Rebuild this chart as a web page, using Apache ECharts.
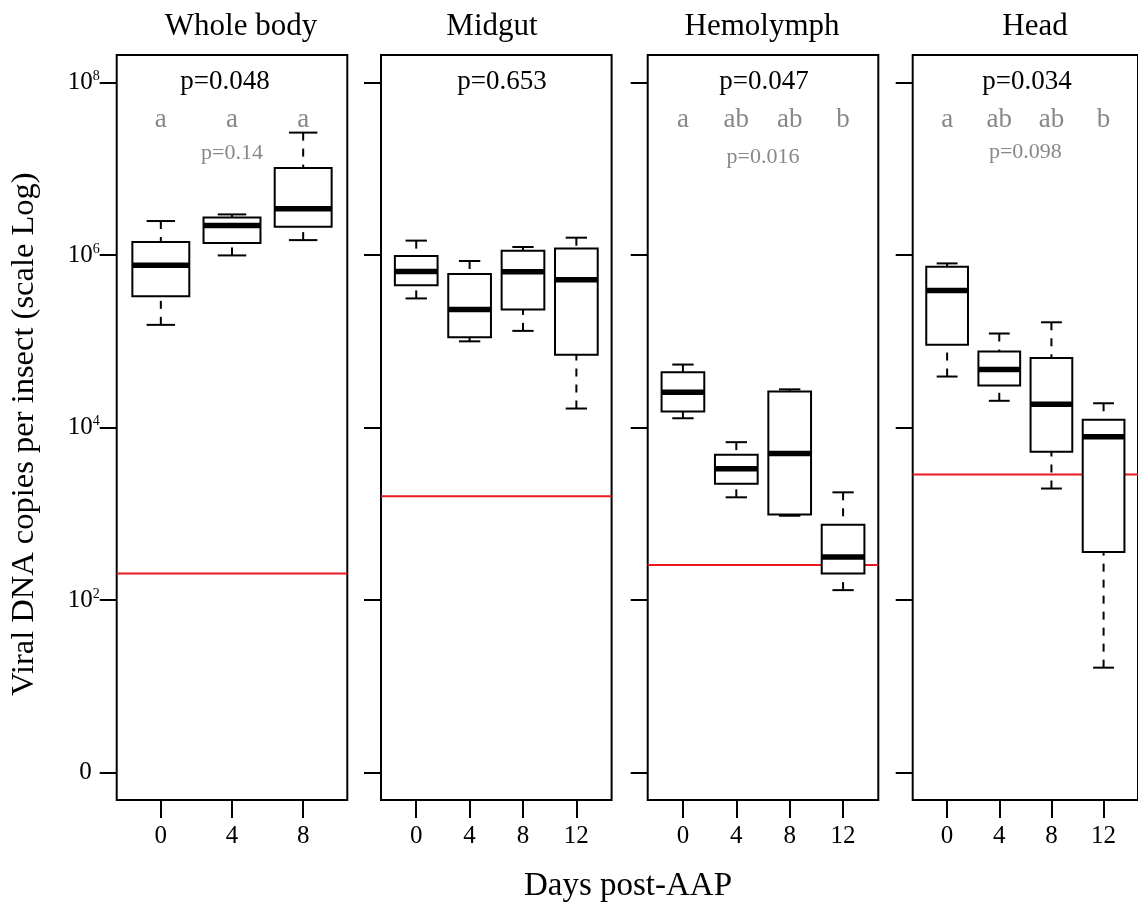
<!DOCTYPE html>
<html>
<head>
<meta charset="utf-8">
<script src="https://cdn.jsdelivr.net/npm/echarts@6/dist/echarts.min.js"></script>
<style>
html,body{margin:0;padding:0;background:#fff;}
#c{width:1138px;height:905px;}
</style>
</head>
<body>
<div id="c"></div>
<script>
// ---------------- DATA ----------------
const panelTitles = ['Whole body', 'Midgut', 'Hemolymph', 'Head'];
const dayLabels = [['0', '4', '8'], ['0', '4', '8', '12'], ['0', '4', '8', '12'], ['0', '4', '8', '12']];
// each box: [min, Q1, median, Q3, max] viral DNA copies per insect
const wholeBody = [
  [1.55e5, 3.32e5, 7.59e5, 1.42e6, 2.48e6],
  [9.9e5, 1.38e6, 2.20e6, 2.73e6, 2.96e6],
  [1.49e6, 2.13e6, 3.44e6, 1.02e7, 2.63e7]
];
const midgut = [
  [3.14e5, 4.45e5, 6.46e5, 9.75e5, 1.47e6],
  [9.98e4, 1.11e5, 2.33e5, 6.03e5, 8.53e5],
  [1.32e5, 2.33e5, 6.41e5, 1.12e6, 1.24e6],
  [1.66e4, 7.0e4, 5.18e5, 1.19e6, 1.59e6]
];
const hemolymph = [
  [1.28e4, 1.53e4, 2.56e4, 4.37e4, 5.37e4],
  [1.55e3, 2.23e3, 3.32e3, 4.82e3, 6.76e3],
  [948, 982, 5.0e3, 2.61e4, 2.77e4],
  [130, 202, 314, 746, 1.77e3]
];
const head = [
  [3.9e4, 9.14e4, 3.89e5, 7.33e5, 8.0e5],
  [2.04e4, 3.06e4, 4.70e4, 7.59e4, 1.23e5],
  [1.96e3, 5.22e3, 1.86e4, 6.41e4, 1.66e5],
  [16.4, 359, 7.80e3, 1.23e4, 1.91e4]
];
const detectionLimit = [202, 1590, 254, 2850];
const overallP = ['p=0.048', 'p=0.653', 'p=0.047', 'p=0.034'];
const groupLetters = [['a', 'a', 'a'], [], ['a', 'ab', 'ab', 'b'], ['a', 'ab', 'ab', 'b']];
const pairwiseP = ['p=0.14', '', 'p=0.016', 'p=0.098'];
const yTickExponents = [0, 2, 4, 6, 8];
const yTitle = 'Viral DNA copies per insect (scale Log)';
const xTitle = 'Days post-AAP';

// ---------------- LAYOUT ----------------
const FONT = '"Liberation Serif", "Times New Roman", serif';
const gridLeft = [116.7, 381, 647.7, 912.7];
const gridWidth = 230.6, gridTop = 55, gridHeight = 745;
const yMin = -0.32, yMax = 8.32;
const smallPY = [153, 0, 157, 152];
const pX = [225, 502, 764, 1027];
const titleX = [241, 492, 762, 1035];

const panelStats = [wholeBody, midgut, hemolymph, head];

const chart = echarts.init(document.getElementById('c'), null, {renderer: 'canvas'});

const grids = [], xAxes = [], yAxes = [], series = [];
panelStats.forEach((stats, i) => {
  const n = stats.length;
  const ext = 0.04 * n;
  const xmin = 0.5 - ext, xmax = n + 0.5 + ext;
  grids.push({left: gridLeft[i], top: gridTop, width: gridWidth, height: gridHeight,
    show: true, borderColor: '#000', borderWidth: 2, backgroundColor: 'transparent'});
  const pos = stats.map((_, j) => j + 1);
  xAxes.push({
    type: 'value', gridIndex: i, min: xmin, max: xmax, position: 'bottom',
    axisLine: {show: false, onZero: false}, splitLine: {show: false},
    axisTick: {show: true, inside: false, customValues: pos, length: 18, lineStyle: {color: '#000', width: 2}},
    axisLabel: {show: true, customValues: pos, margin: 23, color: '#000',
      fontFamily: FONT, fontSize: 25, lineHeight: 26,
      formatter: v => dayLabels[i][Math.round(v) - 1]}
  });
  yAxes.push({
    type: 'value', gridIndex: i, min: yMin, max: yMax, position: 'left',
    axisLine: {show: false, onZero: false}, splitLine: {show: false},
    axisTick: {show: true, inside: false, customValues: yTickExponents, length: 17, lineStyle: {color: '#000', width: 2}},
    axisLabel: {show: i === 0, customValues: yTickExponents, margin: 17, color: '#000',
      formatter: v => v === 0 ? '{z|0}' : '{b|10}{s|' + v + '}',
      rich: {
        b: {fontFamily: FONT, fontSize: 25, lineHeight: 26, color: '#000'},
        s: {fontFamily: FONT, fontSize: 14, lineHeight: 19, verticalAlign: 'top', color: '#000'},
        z: {fontFamily: FONT, fontSize: 25, lineHeight: 26, color: '#000', padding: [0, 8, 0, 0]}
      }}
  });
  // detection limit (red line)
  series.push({
    type: 'line', xAxisIndex: i, yAxisIndex: i, symbol: 'none', silent: true, z: 1,
    lineStyle: {color: '#e8191f', width: 2},
    data: [[xmin, Math.log10(detectionLimit[i])], [xmax, Math.log10(detectionLimit[i])]]
  });
  // boxes
  series.push({
    type: 'custom', xAxisIndex: i, yAxisIndex: i, z: 3, silent: true,
    encode: {x: 0, y: [1, 2, 3, 4, 5]},
    data: stats.map((s, j) => [j + 1].concat(s.map(v => Math.log10(v)))),
    renderItem: (params, api) => {
      const x = api.value(0);
      const yv = [1, 2, 3, 4, 5].map(k => api.coord([x, api.value(k)])[1]);
      const cx = api.coord([x, 0])[0];
      const hb = api.size([0.8, 0])[0] / 2;
      const hc = api.size([0.4, 0])[0] / 2;
      const solid = {stroke: '#000', lineWidth: 2, fill: null};
      const dashed = {stroke: '#000', lineWidth: 2, lineDash: [8, 8], fill: null};
      return {type: 'group', children: [
        {type: 'line', shape: {x1: cx, y1: yv[4], x2: cx, y2: yv[3]}, style: dashed},
        {type: 'line', shape: {x1: cx, y1: yv[0], x2: cx, y2: yv[1]}, style: dashed},
        {type: 'line', shape: {x1: cx - hc, y1: yv[4], x2: cx + hc, y2: yv[4]}, style: solid},
        {type: 'line', shape: {x1: cx - hc, y1: yv[0], x2: cx + hc, y2: yv[0]}, style: solid},
        {type: 'rect', shape: {x: cx - hb, y: yv[3], width: 2 * hb, height: yv[1] - yv[3]},
          style: {stroke: '#000', lineWidth: 2, fill: '#fff'}},
        {type: 'line', shape: {x1: cx - hb, y1: yv[2], x2: cx + hb, y2: yv[2]},
          style: {stroke: '#000', lineWidth: 5.5}}
      ]};
    }
  });
});

chart.setOption({
  animation: false,
  backgroundColor: '#fff',
  grid: grids, xAxis: xAxes, yAxis: yAxes, series: series
});

// annotations
const graphics = [];
const txt = (x, y, text, size, color, rot) => ({
  type: 'text', x: x, y: y, rotation: rot || 0, silent: true, z: 10,
  style: {text: text, fontFamily: FONT, fontSize: size, fill: color, align: 'center', verticalAlign: 'middle'}
});
panelStats.forEach((stats, i) => {
  graphics.push(txt(titleX[i], 27, panelTitles[i], 31, '#000'));
  graphics.push(txt(pX[i], 82, overallP[i], 27, '#000'));
  groupLetters[i].forEach((l, j) => {
    const px = chart.convertToPixel({xAxisIndex: i}, j + 1);
    graphics.push(txt(px, 120, l, 27, '#888888'));
  });
  if (pairwiseP[i]) {
    const mid = chart.convertToPixel({xAxisIndex: i}, (stats.length + 1) / 2);
    graphics.push(txt(mid, smallPY[i], pairwiseP[i], 22, '#888888'));
  }
});
graphics.push(txt(628, 886, xTitle, 33, '#000'));
graphics.push(txt(24, 434, yTitle, 32.5, '#000', Math.PI / 2));
chart.setOption({graphic: graphics});
</script>
</body>
</html>
